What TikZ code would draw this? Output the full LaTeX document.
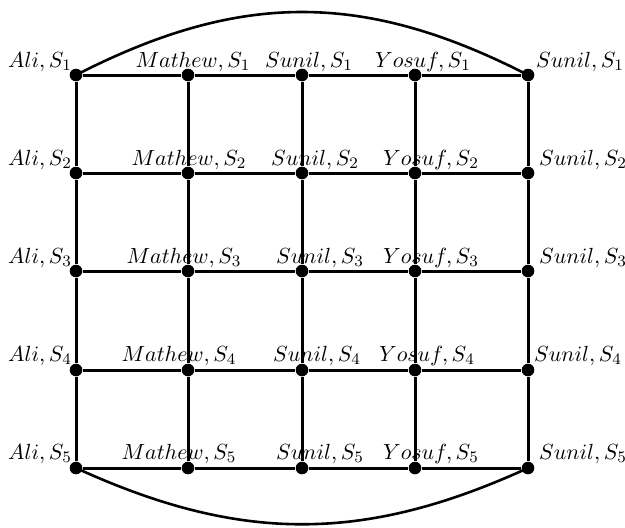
\documentclass[tikz,border=0pt]{standalone}
\usepackage{amsmath, amssymb}
\usepackage{tikz}
\usetikzlibrary{positioning}

\tikzset{
  vtx/.style={circle, fill=black, inner sep=0pt, minimum size=6.3pt},
  edge/.style={line width=1.5pt},
  lbl/.style={font=\fontsize{11}{13}\selectfont, inner sep=0pt}
}

\begin{document}
\begin{tikzpicture}[x=0.5pt, y=-0.5pt]
\useasboundingbox (0,0) rectangle (625,527);

% vertices
\foreach \c/\x in {1/76,2/188,3/302,4/415,5/528}
  \foreach \r/\y in {1/75,2/173,3/271,4/370,5/468}
    \node[vtx] (v\r\c) at (\x,\y) {};

% rows and columns
\foreach \r in {1,...,5}
  \draw[edge] (v\r1) -- (v\r2) -- (v\r3) -- (v\r4) -- (v\r5);
\foreach \c in {1,...,5}
  \draw[edge] (v1\c) -- (v2\c) -- (v3\c) -- (v4\c) -- (v5\c);

% outer arcs
\draw[line width=1.3pt] (v11.center) .. controls (240,-9) and (364,-9) .. (v15.center);
\draw[line width=1.3pt] (v51.center) .. controls (240,543) and (364,543) .. (v55.center);

% labels
\node[lbl] (ali1) at (40,62) {$Ali, S_1$};
\node[lbl] (mat1) at (193,62) {$Mathew, S_1$};
\node[lbl] (sun1) at (309,62) {$Sunil, S_1$};
\node[lbl] (yos1) at (423,62) {$Yosuf, S_1$};
\node[lbl] (sur1) at (580,62) {$Sunil, S_1$};

\node[lbl] (ali2) at (40,160) {$Ali, S_2$};
\node[lbl] (mat2) at (189,160) {$Mathew, S_2$};
\node[lbl] (sun2) at (315,160) {$Sunil, S_2$};
\node[lbl] (yos2) at (431,160) {$Yosuf, S_2$};
\node[lbl] (sur2) at (583,160) {$Sunil, S_2$};

\node[lbl] (ali3) at (40,258) {$Ali, S_3$};
\node[lbl] (mat3) at (184,258) {$Mathew, S_3$};
\node[lbl] (sun3) at (320,258) {$Sunil, S_3$};
\node[lbl] (yos3) at (431,258) {$Yosuf, S_3$};
\node[lbl] (sur3) at (583,258) {$Sunil, S_3$};

\node[lbl] (ali4) at (40,356) {$Ali, S_4$};
\node[lbl] (mat4) at (179,356) {$Mathew, S_4$};
\node[lbl] (sun4) at (317,356) {$Sunil, S_4$};
\node[lbl] (yos4) at (427,356) {$Yosuf, S_4$};
\node[lbl] (sur4) at (578,356) {$Sunil, S_4$};

\node[lbl] (ali5) at (40,454) {$Ali, S_5$};
\node[lbl] (mat5) at (179,454) {$Mathew, S_5$};
\node[lbl] (sun5) at (320,454) {$Sunil, S_5$};
\node[lbl] (yos5) at (431,454) {$Yosuf, S_5$};
\node[lbl] (sur5) at (583,454) {$Sunil, S_5$};

\end{tikzpicture}
\end{document}
